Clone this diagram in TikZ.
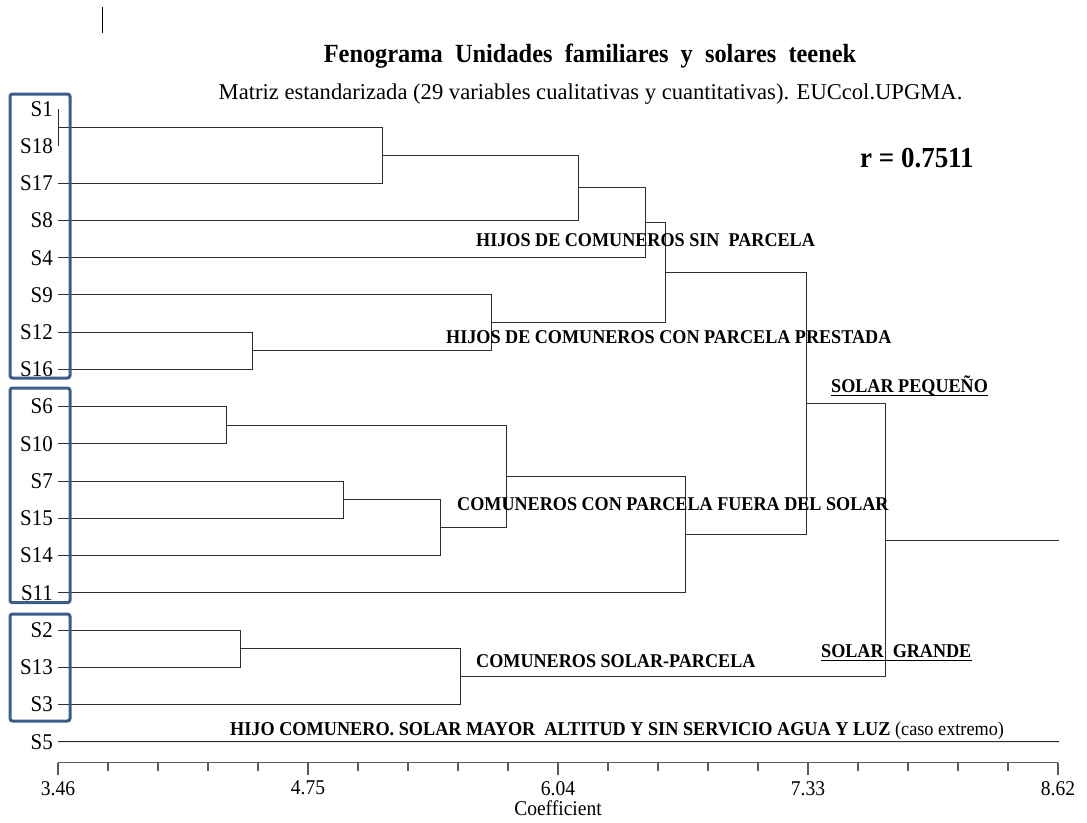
\documentclass[tikz,border=0pt]{standalone}
\usepackage{fontspec}
\usetikzlibrary{calc}
\setmainfont{Liberation Serif}[FakeStretch=0.93]
\newfontfamily\widserif{Liberation Serif}
\definecolor{boxblue}{RGB}{60,92,138}
\definecolor{branchgray}{RGB}{45,45,45}
\definecolor{axisgray}{RGB}{90,90,90}
% one branch of the tree: from child A across to the merge level, down to child B
\newcommand\joinpair[3]{\draw[branch] (#1) -- (#1 -| #3) -- (#2 -| #3) -- (#2);}
\begin{document}
\begin{tikzpicture}[x=1pt,y=-1pt,
  branch/.style={draw=branchgray, line width=1pt},
  axisline/.style={draw=axisgray, line width=1.2pt},
  leafname/.style={anchor=east, inner sep=0pt, font=\fontsize{22.5}{26}\selectfont},
  grouplabel/.style={anchor=base west, inner sep=0pt, font=\fontsize{19.5}{23}\selectfont\bfseries},
  ticklabel/.style={inner sep=0pt, font=\fontsize{21}{24}\selectfont},
  groupbox/.style={draw=boxblue, line width=3pt, rounded corners=2.5pt},
  underlined/.style={draw=black, line width=1pt}]
\useasboundingbox (0,0) rectangle (1087,822);

% small mark in the upper left
\coordinate (mk0) at (102,7);
\coordinate (mk1) at (102,33);
\draw[line width=1pt] (mk0) -- (mk1);

% headings
\node[anchor=base, inner sep=0pt, font=\fontsize{26.2}{30}\selectfont\bfseries] (title) at (590,62)
  {Fenograma\ \ Unidades\ \ familiares\ \ y\ \ solares\ \ teenek};
\node[anchor=base, inner sep=0pt, font=\widserif\fontsize{22.6}{26}\selectfont] (subtitle) at (590.5,99)
  {Matriz estandarizada (29 variables cualitativas y cuantitativas). EUCcol.UPGMA.};
\node[anchor=base west, inner sep=0pt, font=\fontsize{29}{32}\selectfont\bfseries] (rval) at (860,167)
  {r = 0.7511};

% leaves
\foreach \nm [count=\i from 0] in {S1,S18,S17,S8,S4,S9,S12,S16,S6,S10,S7,S15,S14,S11,S2,S13,S3,S5} {
  \coordinate (\nm) at (58,{108.8+37.23*\i});
  \node[leafname] (lab\nm) at (53,{108.8+37.23*\i}) {\nm};
}

% merge points
\coordinate (m1) at (58,127.4);
\coordinate (m2) at (382.5,155.35);
\coordinate (m3) at (578.3,187.9);
\coordinate (m4) at (645.3,222.8);
\coordinate (m5) at (252.3,350.8);
\coordinate (m6) at (491,322.9);
\coordinate (m7) at (665.3,272.85);
\coordinate (m8) at (226.7,425.25);
\coordinate (m9) at (343,499.7);
\coordinate (m10) at (440,527.65);
\coordinate (m11) at (506,476.45);
\coordinate (m12) at (685.3,534.6);
\coordinate (m13) at (806.7,403.7);
\coordinate (m14) at (240,648.65);
\coordinate (m15) at (460,676.6);
\coordinate (m16) at (885.3,540.15);
\coordinate (root) at (1059,540.15);
\coordinate (tail) at (1059,741.7);

% tree
\joinpair{S1}{S18}{m1}
\joinpair{m1}{S17}{m2}
\joinpair{m2}{S8}{m3}
\joinpair{m3}{S4}{m4}
\joinpair{S12}{S16}{m5}
\joinpair{S9}{m5}{m6}
\joinpair{m4}{m6}{m7}
\joinpair{S6}{S10}{m8}
\joinpair{S7}{S15}{m9}
\joinpair{m9}{S14}{m10}
\joinpair{m8}{m10}{m11}
\joinpair{m11}{S11}{m12}
\joinpair{m7}{m12}{m13}
\joinpair{S2}{S13}{m14}
\joinpair{m14}{S3}{m15}
\joinpair{m13}{m15}{m16}
\draw[branch] (m16) -- (root);
\draw[branch] (S5) -- (tail);

% group labels
\node[grouplabel] (gA) at (476,246) {HIJOS DE COMUNEROS SIN\ \ PARCELA};
\node[grouplabel] (gB) at (446,343) {HIJOS DE COMUNEROS CON PARCELA PRESTADA};
\node[grouplabel] (gC) at (457,510) {COMUNEROS CON PARCELA FUERA DEL SOLAR};
\node[grouplabel] (gD) at (476,667) {COMUNEROS SOLAR-PARCELA};
\node[grouplabel] (gE) at (831,392.5) {SOLAR PEQUEÑO};
\node[grouplabel] (gF) at (821,657.5) {SOLAR\ \ GRANDE};
\draw[underlined] ([yshift=-3pt]gE.base west) -- ([yshift=-3pt]gE.base east);
\draw[underlined] ([yshift=-3pt]gF.base west) -- ([yshift=-3pt]gF.base east);
\node[anchor=base west, inner sep=0pt, font=\fontsize{19.6}{23}\selectfont] (gG) at (230,735)
  {\textbf{HIJO COMUNERO. SOLAR MAYOR\ \ ALTITUD Y SIN SERVICIO AGUA Y LUZ} (caso extremo)};

% axis
\coordinate (ax0) at (58,762.7);
\coordinate (ax1) at (1058,762.7);
\draw[axisline] (ax0) -- (ax1);
\foreach \k in {0,...,20} {
  \draw[axisline] ($(ax0)+(50*\k,0)$) -- ++(0,8);
}
\foreach \k/\v in {0/3.46,5/4.75,10/6.04,15/7.33,20/8.62} {
  \draw[axisline] ($(ax0)+(50*\k,0)$) -- ++(0,12);
  \node[ticklabel] (tick\k) at ($(ax0)+(50*\k,25.5)$) {\v};
}
\node[ticklabel] (coef) at (558,808) {Coefficient};

% group frames round the leaf names
\draw[groupbox] (10,94) rectangle (70,378);
\draw[groupbox] (10,388) rectangle (70,602.7);
\draw[groupbox] (10,614) rectangle (70,721);
\end{tikzpicture}
\end{document}
